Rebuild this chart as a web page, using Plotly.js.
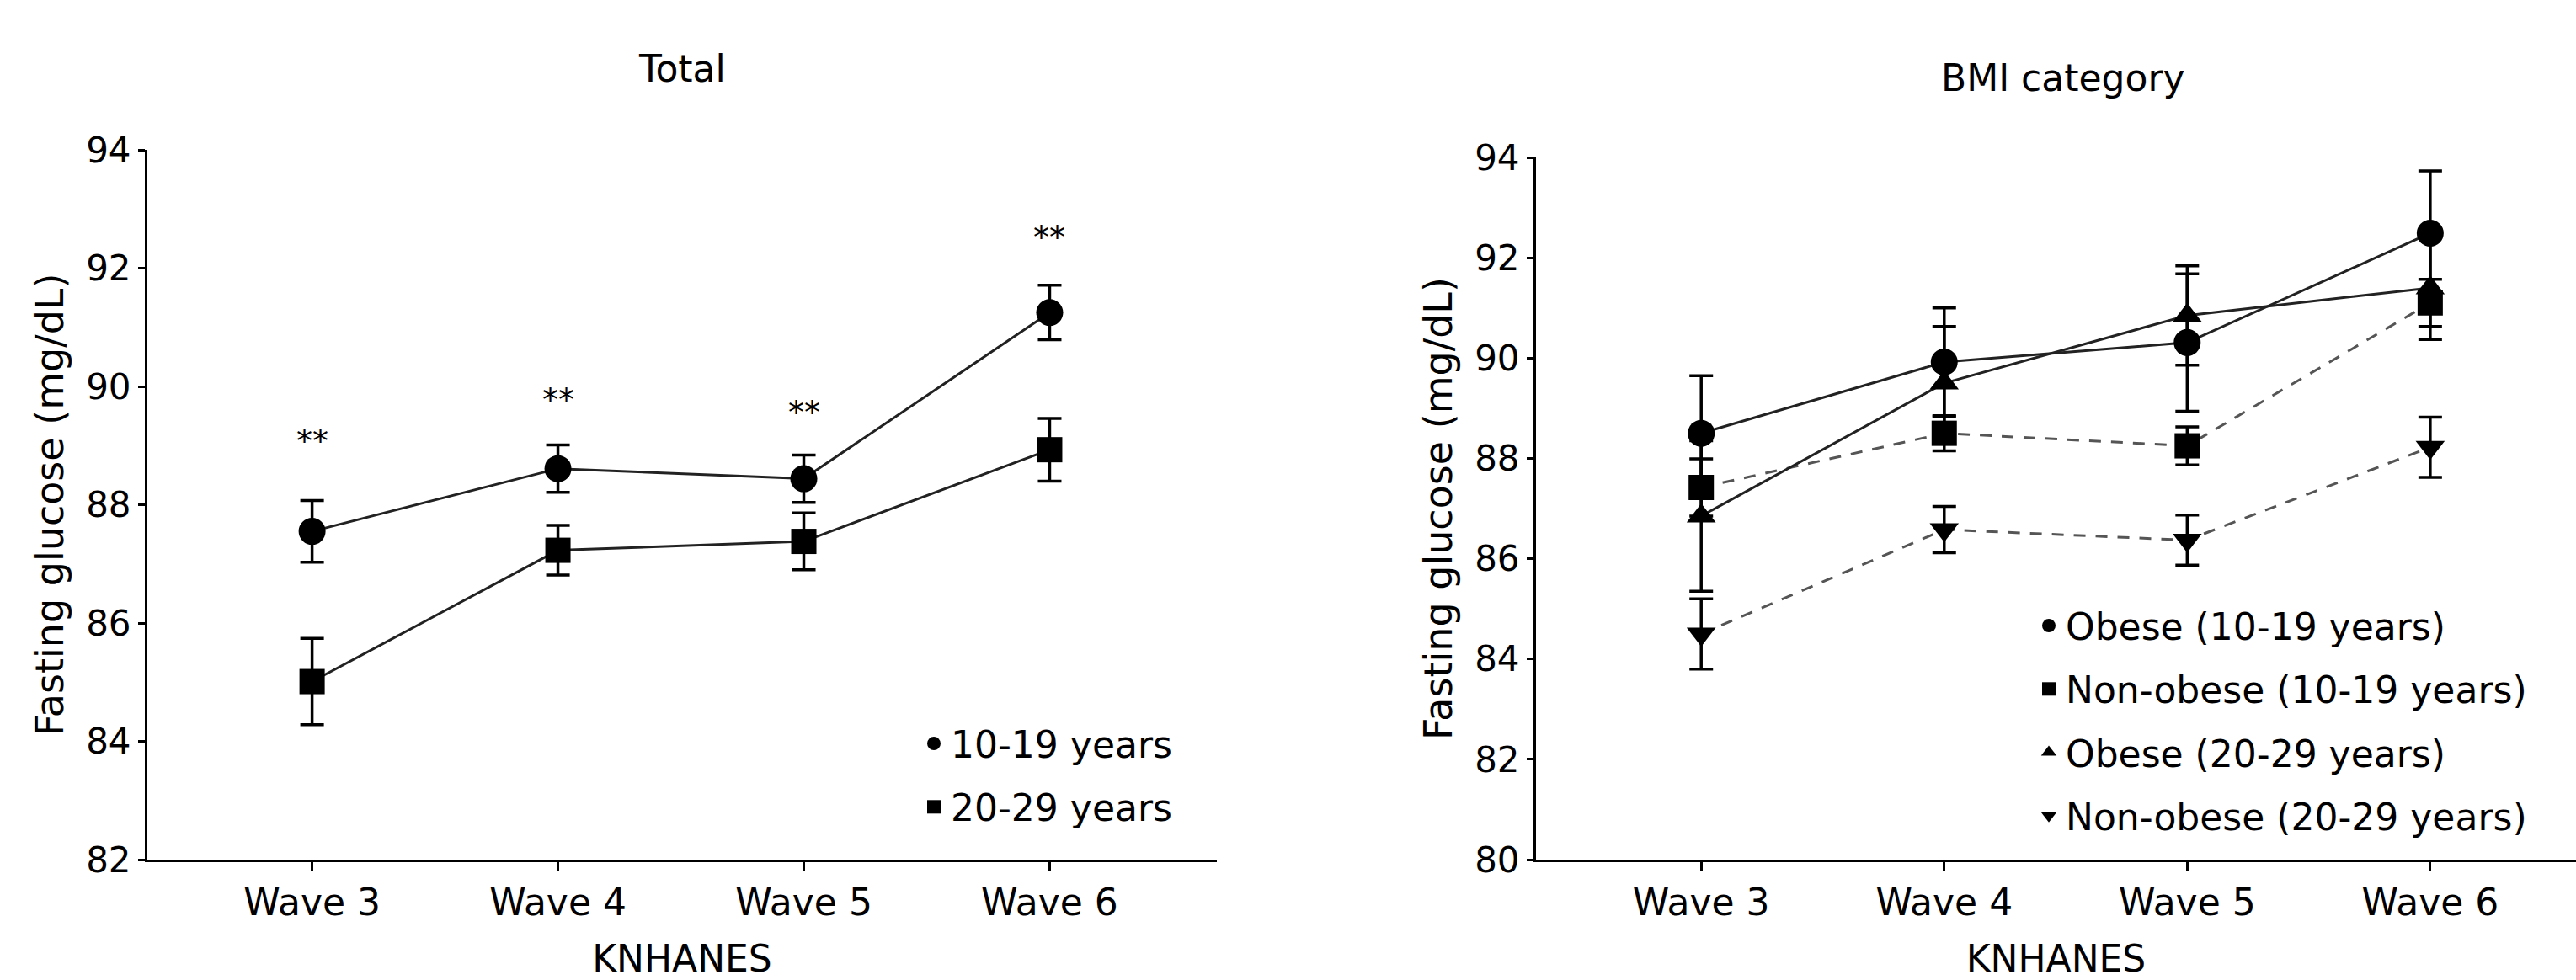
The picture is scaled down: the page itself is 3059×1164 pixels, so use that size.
<!DOCTYPE html>
<html>
<head>
<meta charset="utf-8">
<script src="https://cdn.plot.ly/plotly-3.0.1.min.js"></script>
<style>
  html, body { margin: 0; padding: 0; background: #fff; }
  #chart { width: 3059px; height: 1164px; }
</style>
</head>
<body>
<div id="chart"></div>
<script>
// ---- Data ----
const waves = ['Wave 3', 'Wave 4', 'Wave 5', 'Wave 6'];

// Panel 1: Total
const total1019 = [87.55, 88.61, 88.44, 91.25];
const total1019Err = [0.52, 0.40, 0.40, 0.46];
const total2029 = [85.01, 87.23, 87.38, 88.93];
const total2029Err = [0.73, 0.42, 0.48, 0.53];
const sigMarks = ['**', '**', '**', '**'];
const sigY = [89.08, 89.77, 89.56, 92.52];

// Panel 2: BMI category
const obese1019 = [88.50, 89.92, 90.31, 92.49];
const obese1019Err = [1.15, 1.08, 1.37, 1.24];
const nonObese1019 = [87.42, 88.50, 88.25, 91.10];
const nonObese1019Err = [0.57, 0.35, 0.38, 0.47];
const obese2029 = [86.85, 89.50, 90.85, 91.40];
const obese2029Err = [1.50, 1.13, 0.99, 1.03];
const nonObese2029 = [84.50, 86.58, 86.37, 88.22];
const nonObese2029Err = [0.70, 0.46, 0.50, 0.60];

const yTicksTotal = [82, 84, 86, 88, 90, 92, 94];
const yTicksBMI = [80, 82, 84, 86, 88, 90, 92, 94];

// ---- Styling ----
const FONT = 'DejaVu Sans, Arial, sans-serif';
const INK = '#000';

function lineTrace(y, xa, ya, dashed) {
  return {
    x: waves, y: y, xaxis: xa, yaxis: ya, type: 'scatter', mode: 'lines',
    line: { color: dashed ? '#555' : '#222', width: 3, dash: dashed ? '14px,12px' : 'solid' },
    showlegend: false, hoverinfo: 'skip'
  };
}
function markerTrace(name, y, err, symbol, size, xa, ya, legend, group) {
  return {
    name: name, x: waves, y: y, xaxis: xa, yaxis: ya, type: 'scatter', mode: 'markers',
    marker: { symbol: symbol, size: size, color: INK },
    error_y: { type: 'data', array: err, visible: true, color: INK, thickness: 3.5, width: 14 },
    legend: legend, legendgroup: group
  };
}

const data = [
  lineTrace(total1019, 'x', 'y', false),
  lineTrace(total2029, 'x', 'y', false),
  markerTrace('10-19 years', total1019, total1019Err, 'circle', 32, 'x', 'y', 'legend', 'a'),
  markerTrace('20-29 years', total2029, total2029Err, 'square', 30, 'x', 'y', 'legend', 'b'),

  lineTrace(obese1019, 'x2', 'y2', false),
  lineTrace(nonObese1019, 'x2', 'y2', true),
  lineTrace(obese2029, 'x2', 'y2', false),
  lineTrace(nonObese2029, 'x2', 'y2', true),
  markerTrace('Obese (10-19 years)', obese1019, obese1019Err, 'circle', 32, 'x2', 'y2', 'legend2', 'c'),
  markerTrace('Non-obese (10-19 years)', nonObese1019, nonObese1019Err, 'square', 30, 'x2', 'y2', 'legend2', 'd'),
  markerTrace('Obese (20-29 years)', obese2029, obese2029Err, 'triangle-up', 30, 'x2', 'y2', 'legend2', 'e'),
  markerTrace('Non-obese (20-29 years)', nonObese2029, nonObese2029Err, 'triangle-down', 30, 'x2', 'y2', 'legend2', 'f')
];

const W = 3059, H = 1164;
function px(xp) { return xp / W; }
function py(yp) { return 1 - yp / H; }

function xAxis(domain, range, anchor) {
  return {
    domain: domain, anchor: anchor, type: 'category', range: range,
    showline: true, linecolor: INK, linewidth: 3, mirror: false,
    ticks: 'outside', ticklen: 10, tickwidth: 3, tickcolor: INK,
    showgrid: false, zeroline: false,
    tickfont: { family: FONT, size: 44, color: INK },
    title: { text: 'KNHANES', font: { family: FONT, size: 44, color: INK }, standoff: 52 },
    automargin: false
  };
}
function yAxis(domain, range, ticks, anchor) {
  return {
    domain: domain, anchor: anchor, range: range,
    tickmode: 'array', tickvals: ticks, ticktext: ticks.map(String),
    showline: true, linecolor: INK, linewidth: 3, mirror: false,
    ticks: 'outside', ticklen: 8, tickwidth: 3, tickcolor: INK,
    showgrid: false, zeroline: false,
    tickfont: { family: FONT, size: 42, color: INK },
    title: { text: 'Fasting glucose (mg/dL)', font: { family: FONT, size: 46, color: INK }, standoff: 13 },
    automargin: false
  };
}

const legendBase = {
  font: { family: FONT, size: 44, color: INK },
  bgcolor: 'rgba(0,0,0,0)', borderwidth: 0,
  traceorder: 'grouped', tracegroupgap: 15,
  xanchor: 'left', yanchor: 'top', itemwidth: 30
};

const annotations = sigMarks.map((t, i) => ({
  text: t, x: waves[i], y: sigY[i], xref: 'x', yref: 'y',
  showarrow: false, yanchor: 'middle', yshift: 0,
  font: { family: FONT, size: 38, color: INK }
}));
annotations.push({
  text: 'Total', xref: 'paper', yref: 'paper', x: px(810), y: py(82),
  showarrow: false, xanchor: 'center', yanchor: 'middle',
  font: { family: FONT, size: 44, color: INK }
});
annotations.push({
  text: 'BMI category', xref: 'paper', yref: 'paper', x: px(2450), y: py(93),
  showarrow: false, xanchor: 'center', yanchor: 'middle',
  font: { family: FONT, size: 44, color: INK }
});

const layout = {
  width: W, height: H,
  margin: { l: 0, r: 0, t: 0, b: 0, pad: 0 },
  paper_bgcolor: '#fff', plot_bgcolor: '#fff',
  font: { family: FONT, color: INK },
  xaxis: xAxis([px(175), px(1445)], [-0.67, 3.68], 'y'),
  yaxis: yAxis([py(1021), py(178)], [82, 94], yTicksTotal, 'x'),
  xaxis2: xAxis([px(1824), 1], [-0.68, 3.6], 'y2'),
  yaxis2: yAxis([py(1021), py(187)], [80, 94], yTicksBMI, 'x2'),
  legend: Object.assign({}, legendBase, { x: px(1089), y: py(848) }),
  legend2: Object.assign({}, legendBase, { x: px(2413), y: py(708) }),
  annotations: annotations,
  showlegend: true
};

Plotly.newPlot('chart', data, layout, { displayModeBar: false, staticPlot: true });
</script>
</body>
</html>
